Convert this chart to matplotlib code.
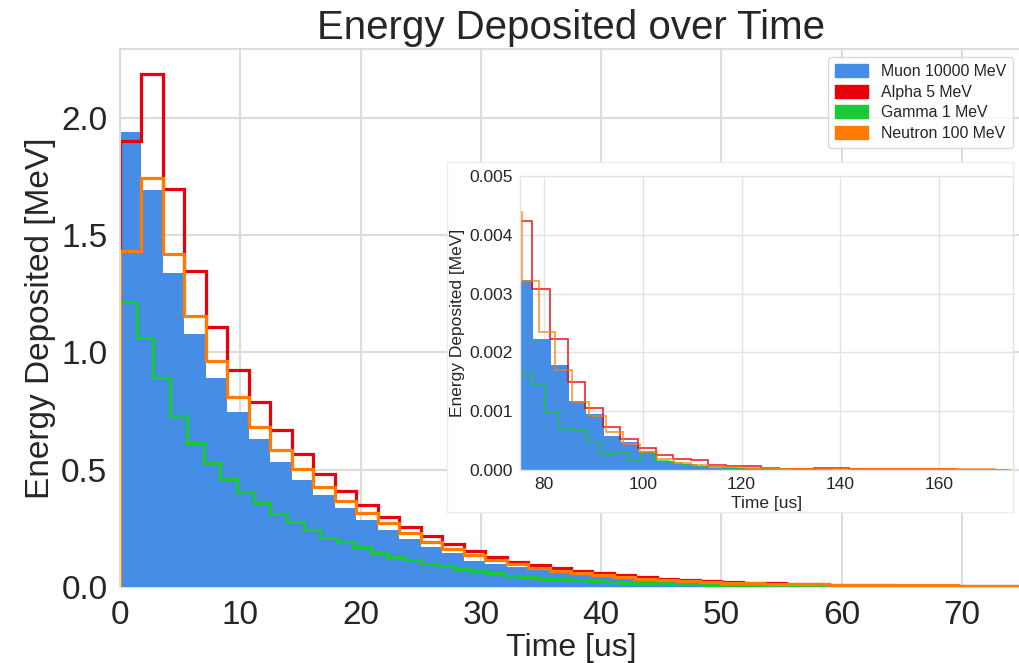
import numpy as np
import matplotlib
matplotlib.use("Agg")
import matplotlib.pyplot as plt
from matplotlib.patches import Patch

# ---------------- data ----------------
labels = ["Muon 10000 MeV", "Alpha 5 MeV", "Gamma 1 MeV", "Neutron 100 MeV"]
colors = ["#468ee5", "#e8000b", "#1ac938", "#ff7c00"]

# main panel (0-75 us)
main_bin_start = 0.0
main_bin_width = 75 / 42
green_bin_width = 75 / 54

muon_main = [1.94, 1.693, 1.338, 1.079, 0.89, 0.748, 0.63, 0.534, 0.456, 0.392,
             0.336, 0.286, 0.243, 0.205, 0.172, 0.144, 0.113, 0.096, 0.084, 0.071,
             0.062, 0.053, 0.045, 0.038, 0.032, 0.027, 0.023, 0.02, 0.017, 0.014,
             0.012, 0.01, 0.008, 0.007, 0.006, 0.005, 0.004, 0.004, 0.003, 0.003,
             0.002, 0.002]
alpha_main = [1.90, 2.186, 1.696, 1.349, 1.107, 0.925, 0.787, 0.668, 0.566, 0.482,
              0.409, 0.351, 0.30, 0.257, 0.217, 0.183, 0.154, 0.127, 0.108, 0.092,
              0.08, 0.068, 0.058, 0.05, 0.041, 0.034, 0.029, 0.024, 0.021, 0.017,
              0.015, 0.013, 0.011, 0.009, 0.008, 0.007, 0.006, 0.006, 0.005, 0.005,
              0.004, 0.004]
neutron_main = [1.434, 1.745, 1.42, 1.156, 0.965, 0.81, 0.684, 0.584, 0.503, 0.428,
                0.367, 0.317, 0.272, 0.232, 0.193, 0.161, 0.135, 0.114, 0.097, 0.083,
                0.07, 0.06, 0.05, 0.043, 0.036, 0.03, 0.026, 0.022, 0.019, 0.016,
                0.014, 0.012, 0.011, 0.01, 0.009, 0.008, 0.008, 0.007, 0.007, 0.006,
                0.006, 0.005]
gamma_main = [1.217, 1.06, 0.893, 0.729, 0.613, 0.53, 0.46, 0.406, 0.357, 0.311,
              0.276, 0.244, 0.208, 0.19, 0.17, 0.143, 0.128, 0.116, 0.098, 0.088,
              0.075, 0.068, 0.061, 0.048, 0.041, 0.035, 0.032, 0.028, 0.025, 0.022,
              0.019, 0.017, 0.015, 0.013, 0.011, 0.009, 0.008, 0.007, 0.006, 0.005,
              0.0045, 0.004, 0.0035, 0.003, 0.0027, 0.0024, 0.002, 0.0018, 0.0016, 0.0014,
              0.0012, 0.001, 0.0009, 0.0008]

# inset panel (75-175 us)
muon_in_start, muon_in_width = 74.2, 3.57
muon_in = [0.00323, 0.00222, 0.00178, 0.00117, 0.00095, 0.00058, 0.00047, 0.00031,
           0.00015, 0.0001, 0.00006, 0.00004, 0.00003, 0.00002, 0.00001, 0.00001,
           0.00001, 0.00001, 0.000005, 0.000005]
alpha_in_start, alpha_in_width = 74.0, 3.57
alpha_in = [0.00424, 0.00307, 0.00222, 0.0015, 0.00105, 0.00073, 0.00052, 0.00038,
            0.00025, 0.00019, 0.00017, 0.00008, 0.00007, 0.00006, 0.00003, 0.00002,
            0.00002, 0.00003, 0.00004, 0.00002, 0.00001, 0.00001, 0.00001, 0.00001,
            0.00001, 0.000005, 0.000005, 0.000005]
gamma_in_start, gamma_in_width = 74.65, 2.78
gamma_in = [0.00163, 0.00145, 0.00098, 0.0007, 0.00068, 0.00048, 0.00027, 0.0003,
            0.00017, 0.0003, 0.00015, 0.00012, 0.00008, 0.00005, 0.00005, 0.00003,
            0.00002, 0.00002, 0.00001, 0.00001]
neutron_in_start, neutron_in_width = 71.97, 3.43
neutron_in = [0.00438, 0.00321, 0.00234, 0.0017, 0.00115, 0.00091, 0.00064, 0.00045,
              0.00031, 0.00019, 0.00012, 0.00009, 0.00007, 0.00005, 0.00003, 0.00003,
              0.00002, 0.00002, 0.00002, 0.00002, 0.00002, 0.00002, 0.00002, 0.00001,
              0.00001, 0.00001, 0.00001, 0.00001, 0.00001, 0.000005]


def edges(start, width, n):
    return start + width * np.arange(n + 1)


# ---------------- style ----------------
plt.rcParams["font.family"] = ["Liberation Sans", "DejaVu Sans"]
text_col = "#262626"
grid_col = "#dcdcdc"
plt.rcParams["text.color"] = text_col
plt.rcParams["axes.labelcolor"] = text_col
plt.rcParams["xtick.color"] = text_col
plt.rcParams["ytick.color"] = text_col

W, H = 1019, 663
fig = plt.figure(figsize=(W / 100, H / 100), dpi=100)


def fbox(x0, y0, x1, y1):
    return [x0 / W, 1 - y1 / H, (x1 - x0) / W, (y1 - y0) / H]


# ---------------- main axes ----------------
ax = fig.add_axes(fbox(120, 48.8, 1022, 587))
ax.set_axisbelow(True)
ax.grid(True, color=grid_col, lw=1.5)
for s in ax.spines.values():
    s.set_color(grid_col)
    s.set_linewidth(1.5)
ax.spines["bottom"].set_zorder(0.8)
ax.tick_params(length=0, labelsize=24, pad=9)

ax.stairs(muon_main, edges(main_bin_start, main_bin_width, len(muon_main)),
          fill=True, color=colors[0], lw=0)
ax.stairs(alpha_main, edges(main_bin_start, main_bin_width, len(alpha_main)),
          color=colors[1], lw=2.3)
ax.stairs(gamma_main, edges(main_bin_start, green_bin_width, len(gamma_main)),
          color=colors[2], lw=2.3)
ax.stairs(neutron_main, edges(main_bin_start, main_bin_width, len(neutron_main)),
          color=colors[3], lw=2.3)

ax.set_xlim(0, 75)
ax.set_ylim(0, 2.295)
ax.set_xticks([0, 10, 20, 30, 40, 50, 60, 70])
ax.set_yticks([0.0, 0.5, 1.0, 1.5, 2.0])
ax.set_xlabel("Time [us]", fontsize=23, labelpad=2)
ax.set_ylabel("Energy Deposited [MeV]", fontsize=24, labelpad=4)
ax.set_title("Energy Deposited over Time", fontsize=29, pad=7)

# ---------------- inset background box ----------------
bg = fig.add_axes(fbox(447, 162, 1013, 512))
bg.set_facecolor("white")
bg.set_xticks([])
bg.set_yticks([])
for s in bg.spines.values():
    s.set_color("#ececec")
    s.set_linewidth(1.0)

# ---------------- inset axes ----------------
ins = fig.add_axes(fbox(519.7, 176, 1012.7, 470))
ins.set_axisbelow(True)
ins.grid(True, color="#e3e3e3", lw=1.0)
for s in ins.spines.values():
    s.set_color("#e3e3e3")
    s.set_linewidth(1.0)
ins.tick_params(length=0, labelsize=12.5, pad=5)

ins.stairs(muon_in, edges(muon_in_start, muon_in_width, len(muon_in)),
           fill=True, color=colors[0], lw=0)
ins.stairs(alpha_in, edges(alpha_in_start, alpha_in_width, len(alpha_in)),
           color=colors[1], lw=1.2, alpha=0.85)
ins.stairs(gamma_in, edges(gamma_in_start, gamma_in_width, len(gamma_in)),
           color=colors[2], lw=1.2, alpha=0.85)
ins.stairs(neutron_in, edges(neutron_in_start, neutron_in_width, len(neutron_in)),
           color=colors[3], lw=1.2, alpha=0.8)
ins.set_xlim(75, 175)
ins.set_ylim(0, 0.005)
ins.set_xticks([80, 100, 120, 140, 160])
ins.set_yticks([0.0, 0.001, 0.002, 0.003, 0.004, 0.005])
ins.yaxis.set_major_formatter(matplotlib.ticker.FormatStrFormatter("%.3f"))
ins.set_xlabel("Time [us]", fontsize=12.5, labelpad=3)
ins.set_ylabel("Energy Deposited [MeV]", fontsize=12.5, labelpad=3)

# ---------------- legend ----------------
handles = [Patch(facecolor=c, edgecolor=c) for c in colors]
leg = fig.legend(handles, labels, loc="upper right",
                 bbox_to_anchor=(1013 / W, 1 - 57 / H), fontsize=11.4,
                 frameon=True, borderaxespad=0, handlelength=2.1, handleheight=0.9,
                 borderpad=0.45, labelspacing=0.35, handletextpad=0.8)
leg.get_frame().set_edgecolor("#d0d0d0")
leg.get_frame().set_linewidth(1.0)

fig.savefig("out.png", dpi=100)
